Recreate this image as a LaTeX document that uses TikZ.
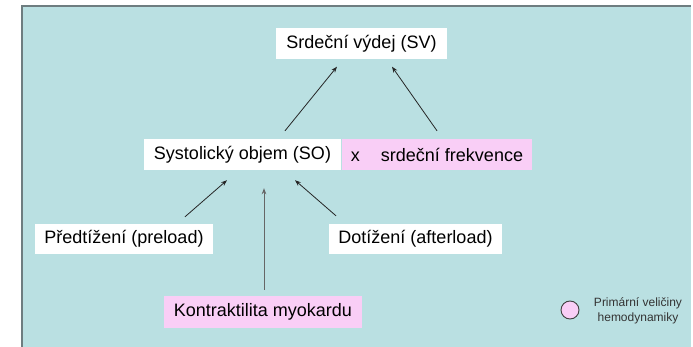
\documentclass[tikz,border=0pt]{standalone}
\usepackage{fontspec}
\setmainfont{Liberation Sans}
\usetikzlibrary{arrows.meta, positioning}
\definecolor{panelteal}{RGB}{186,224,226}
\definecolor{primpink}{RGB}{249,206,246}
\definecolor{edgegray}{RGB}{110,125,128}

\begin{document}
\begin{tikzpicture}[x=1pt, y=-1pt,
	box/.style={fill=white, inner sep=0pt, minimum height=31pt,
		font=\fontsize{18}{21}\selectfont},
	primbox/.style={box, fill=primpink},
	arr/.style={-{Stealth[length=6pt,width=4.5pt]}, line width=0.8pt, black!85}]
	\useasboundingbox (0,0) rectangle (693,347);
	% Panel
	\fill[white] (0,0) rectangle (693,347);
	\fill[panelteal] (22,6) rectangle (691,347);
	\draw[edgegray, line width=1.2pt] (22,347) -- (22,6) -- (691,6);
	% Nodes
	\node[box, minimum width=171pt] (sv) at (361.5,44) {Srdeční výdej (SV)};
	\node[box, minimum width=197pt] (so) at (242.5,154.5) {Systolický objem (SO)};
	\node[primbox, minimum width=190pt] (hr) at (437,154.5) {x\hspace{21pt}srdeční frekvence};
	\node[box, minimum width=178pt, minimum height=30pt] (pre) at (124,239) {Předtížení (preload)};
	\node[box, minimum width=173pt, minimum height=30pt] (after) at (415.5,239) {Dotížení (afterload)};
	\node[primbox, minimum width=198pt, minimum height=32pt] (kon) at (263,312) {Kontraktilita myokardu};
	% Arrows
	\draw[arr] ([xshift=42.5pt,yshift=8pt]so.north) -- ([xshift=-24.5pt,yshift=-7pt]sv.south);
	\draw[arr] ([yshift=8pt]hr.north) -- ([xshift=30.5pt,yshift=-7pt]sv.south);
	\draw[arr] ([xshift=61pt,yshift=7pt]pre.north) -- ([xshift=-15.5pt,yshift=-10pt]so.south);
	\draw[arr] ([xshift=-79.5pt,yshift=8pt]after.north) -- ([xshift=52.5pt,yshift=-10pt]so.south);
	\draw[arr, black!60] ([xshift=1pt,yshift=6pt]kon.north) -- ([xshift=21.5pt,yshift=-18pt]so.south);
	% Legend
	\node[circle, draw=black!75, fill=primpink, line width=0.9pt, minimum size=18pt, inner sep=0pt] (leg) at (570,310) {};
	\node[align=center, font=\fontsize{12}{14.5}\selectfont, text=black!80] (legtext) at (638,311) {Primární veličiny\\hemodynamiky};
\end{tikzpicture}
\end{document}
